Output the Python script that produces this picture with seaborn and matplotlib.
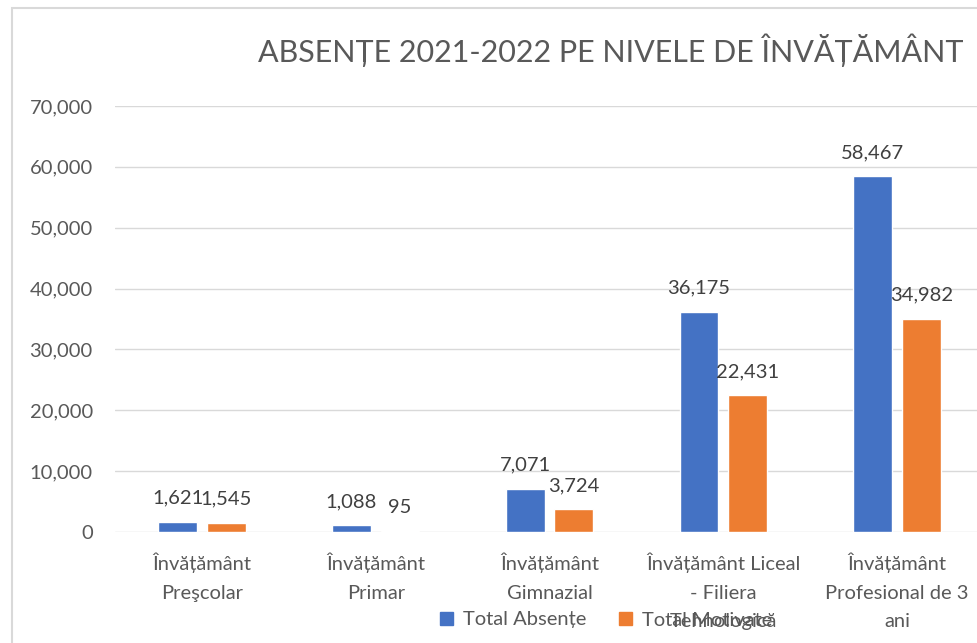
import pandas as pd
import matplotlib.pyplot as plt
import matplotlib.patches as mpatches
import seaborn as sns

# chart data
categories = ['Învățământ\nPreşcolar', 'Învățământ\nPrimar', 'Învățământ\nGimnazial',
              'Învățământ Liceal\n- Filiera\nTehnologică', 'Învățământ\nProfesional de 3\nani']
total_absente = [1621, 1088, 7071, 36175, 58467]
total_motivate = [1545, 95, 3724, 22431, 34982]
series = ['Total Absențe', 'Total Motivate']
yticks = [0, 10000, 20000, 30000, 40000, 50000, 60000, 70000]

df = pd.DataFrame({'cat': categories * 2,
                   'val': total_absente + total_motivate,
                   'serie': [series[0]] * 5 + [series[1]] * 5})

sns.set_theme(style='white')
plt.rcParams['font.family'] = ['Lato', 'DejaVu Sans']
grey = '#595959'
fs = 14.5

fig = plt.figure(figsize=(9.78, 6.43), dpi=100)
ax = fig.add_axes([115 / 978, 1 - 532 / 643, (984 - 115) / 978, (532 - 106) / 643])

sns.barplot(data=df, x='cat', y='val', hue='serie', palette=['#4472C4', '#ED7D31'],
            width=0.56, gap=0.2, ax=ax, legend=False, saturation=1)

for cont, vals in zip(ax.containers, [total_absente, total_motivate]):
    ax.bar_label(cont, labels=[f'{v:,}' for v in vals], padding=11, fontsize=fs, color='#404040')

ax.set_ylim(0, 70000)
ax.set_xlim(-0.5, 4.5)
ax.set_yticks(yticks)
ax.set_yticklabels([f'{v:,}' for v in yticks])
ax.set_xticks(range(len(categories)))
ax.set_xticklabels(categories, linespacing=1.8, ha='center')
ax.grid(axis='y', color='#D9D9D9', linewidth=1)
ax.set_axisbelow(True)
for s in ax.spines.values():
    s.set_visible(False)
ax.set_xlabel('')
ax.set_ylabel('')
ax.tick_params(axis='y', length=0, pad=16, labelsize=fs, labelcolor=grey)
ax.tick_params(axis='x', length=0, pad=15, labelsize=fs, labelcolor=grey)

fig.text(258 / 978, 1 - 50 / 643, 'ABSENȚE 2021-2022 PE NIVELE DE ÎNVĂȚĂMÂNT',
         fontsize=22, color=grey, va='center', ha='left')

# legend
handles = [mpatches.Patch(color='#4472C4', label=series[0]),
           mpatches.Patch(color='#ED7D31', label=series[1])]
fig.legend(handles=handles, loc='center left', bbox_to_anchor=(422 / 978, 1 - 620 / 643),
           ncol=2, frameon=False, fontsize=fs, labelcolor=grey,
           handlelength=0.65, handleheight=0.65, handletextpad=0.5, columnspacing=1.6)

# chart border (cropped at right and bottom)
fig.patches.append(mpatches.Rectangle((12 / 978, -0.1), 1.2, 1 - 8 / 643 + 0.1,
                                      transform=fig.transFigure, fill=False,
                                      edgecolor='#D9D9D9', linewidth=1.5))

fig.savefig('out.png', dpi=100)
